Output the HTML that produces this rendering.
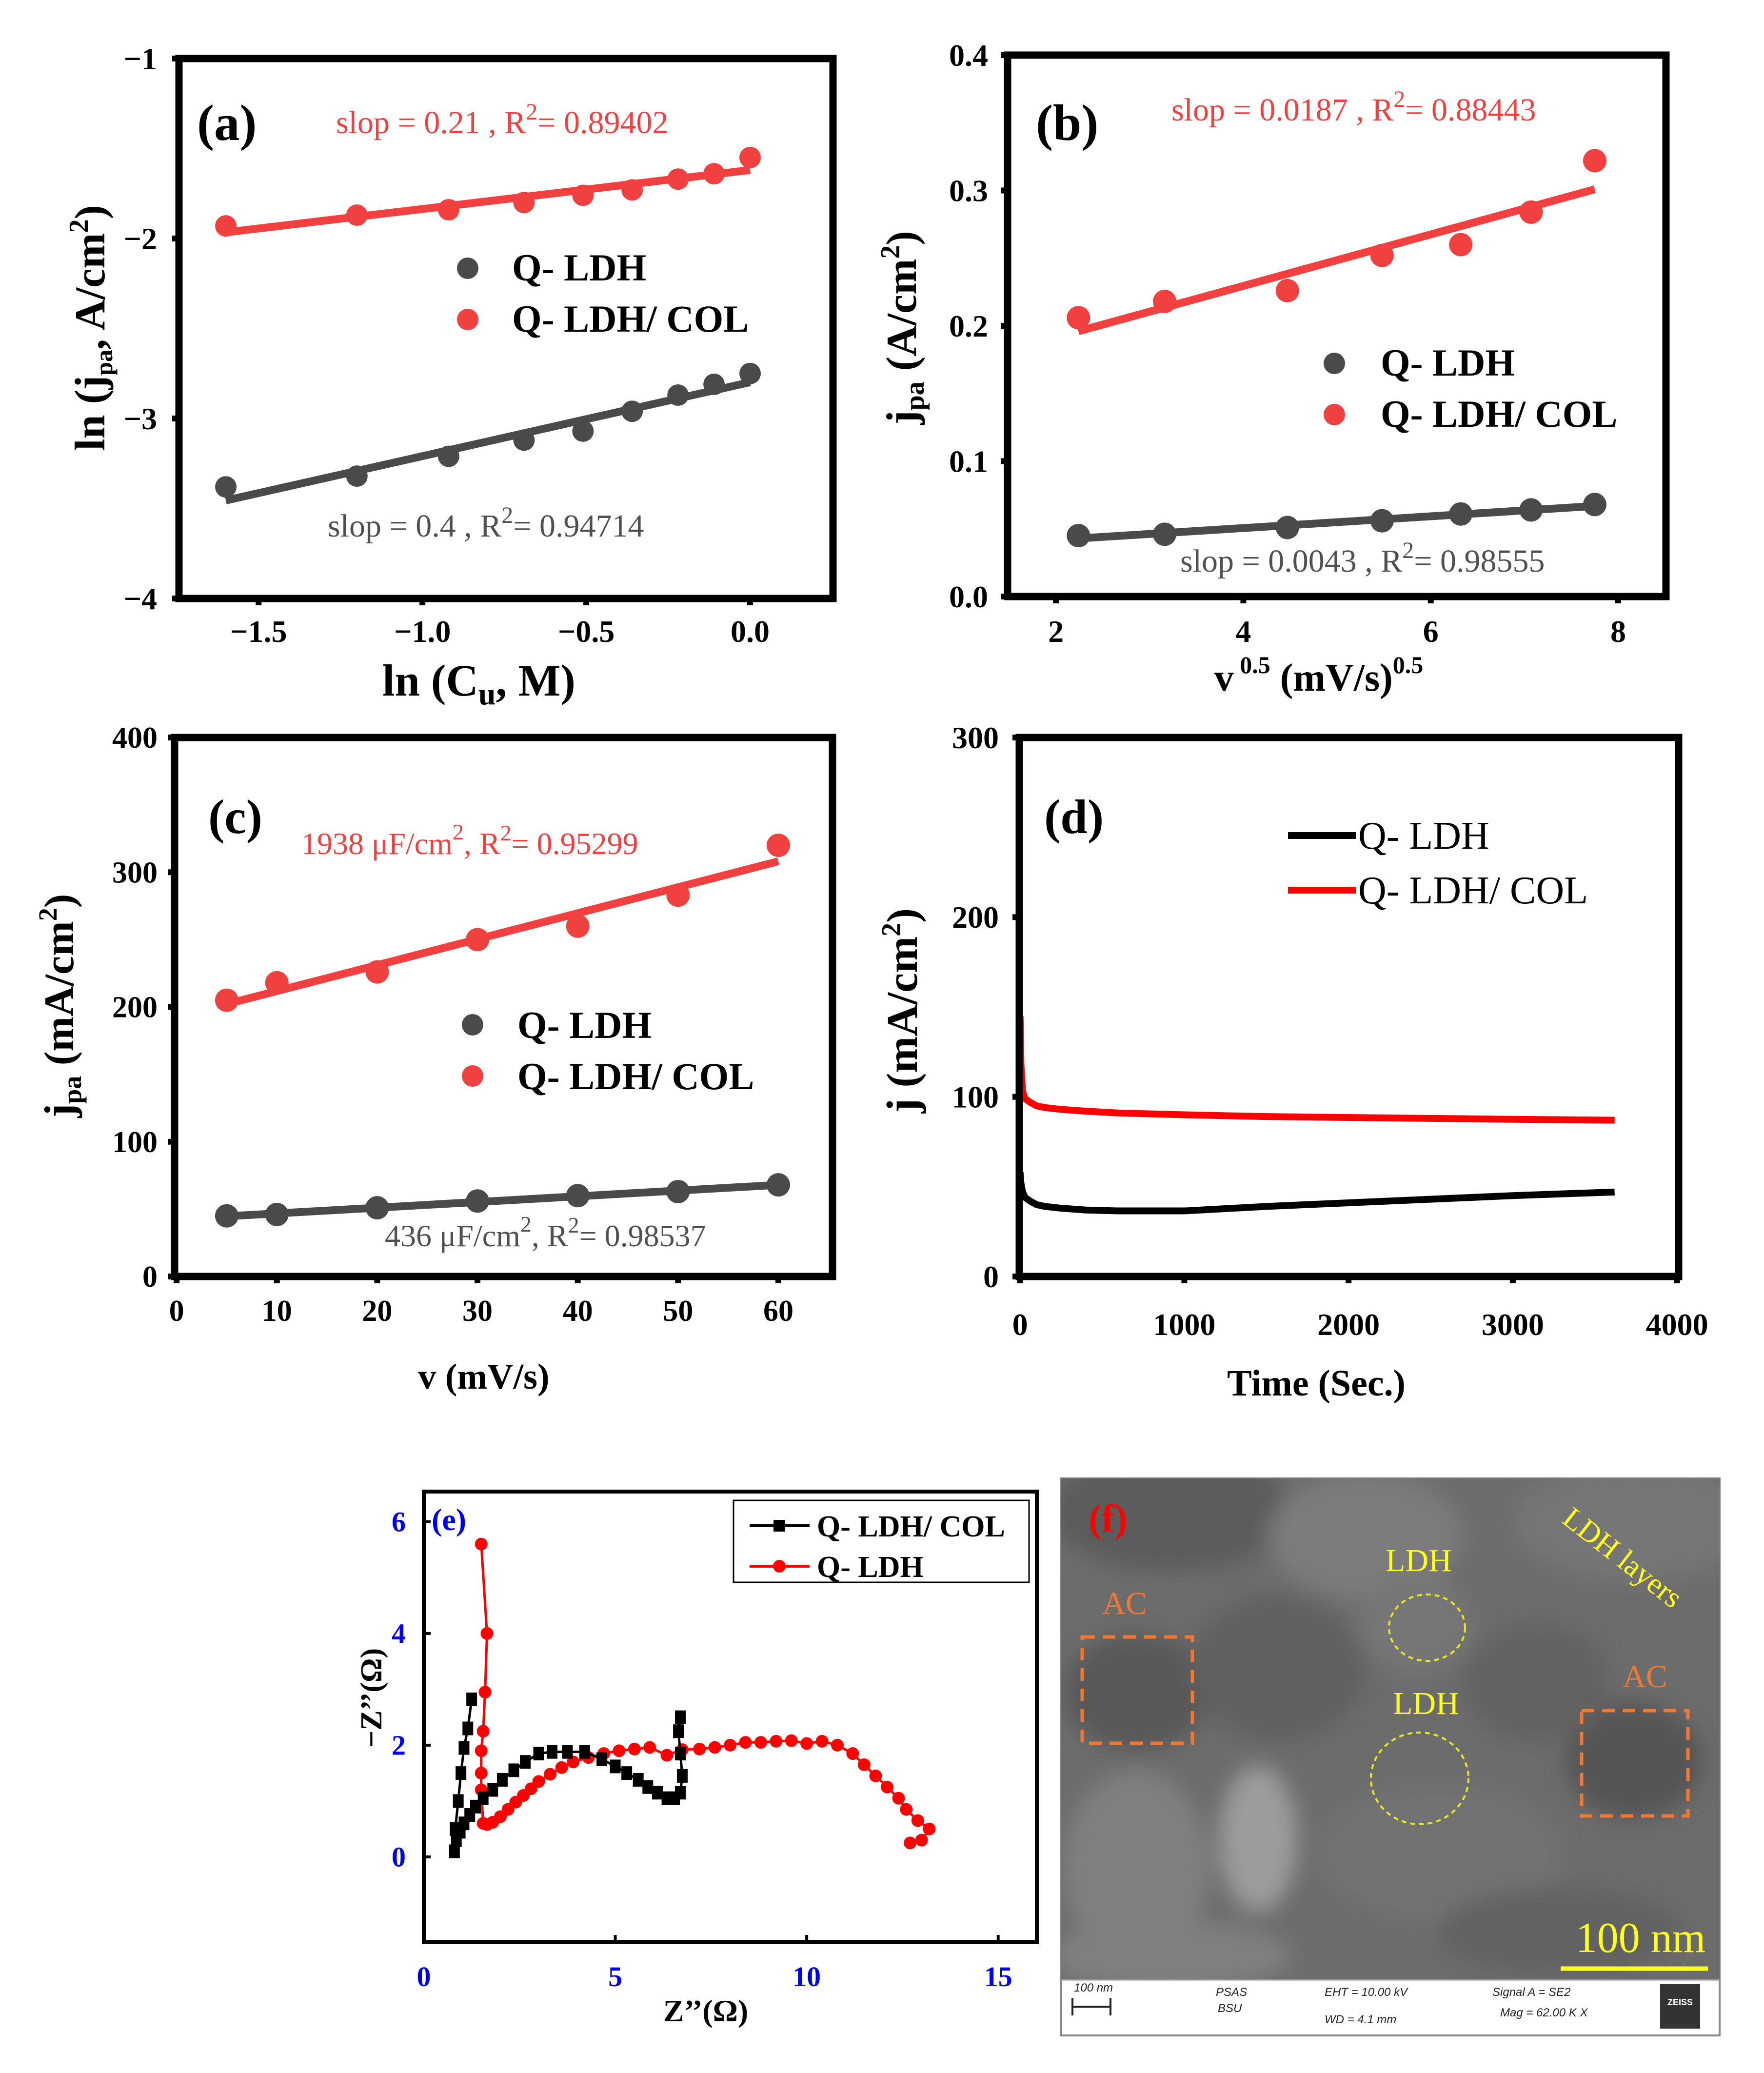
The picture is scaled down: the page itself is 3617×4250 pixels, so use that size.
<!DOCTYPE html>
<html><head><meta charset="utf-8">
<style>
html,body{margin:0;padding:0;background:#fff;}
svg{display:block;}
.t{font-family:"Liberation Serif",serif;}
</style></head>
<body>
<svg id="fig" width="3617" height="4250" viewBox="0 0 3617 4250" xmlns="http://www.w3.org/2000/svg">
  <defs>
    <filter id="blur1" x="-20%" y="-20%" width="140%" height="140%"><feGaussianBlur stdDeviation="22"/></filter>
    <filter id="blur2"><feGaussianBlur stdDeviation="8"/></filter>
    <clipPath id="semclip"><rect x="2176" y="3031" width="1350" height="1028"/></clipPath>
  </defs>
  <g id="pa"></g>
  <g id="pb"></g>
  <g id="pc"></g>
  <g id="pd"></g>
  <g id="pe"></g>

  <!-- Panel (a) text -->
  <g class="t">
    <text x="404" y="287" font-size="105" font-weight="bold">(a)</text>
    <text x="689" y="273" font-size="66" fill="#f04040">slop = 0.21 , R<tspan dy="-28" font-size="48">2</tspan><tspan dy="28">= 0.89402</tspan></text>
    <text x="672" y="1100" font-size="66" fill="#505050">slop = 0.4 , R<tspan dy="-28" font-size="48">2</tspan><tspan dy="28">= 0.94714</tspan></text>
    <text x="1050" y="575" font-size="78" font-weight="bold">Q- LDH</text>
    <text x="1050" y="680" font-size="78" font-weight="bold">Q- LDH/ COL</text>
    <text x="982" y="1426" font-size="92" font-weight="bold" text-anchor="middle">ln (C<tspan dy="18" font-size="64">u</tspan><tspan dy="-18">, M)</tspan></text>
    <text transform="translate(214,672) rotate(-90)" font-size="88" font-weight="bold" text-anchor="middle">ln (j<tspan dy="16" font-size="50">pa</tspan><tspan dy="-16">, A/cm</tspan><tspan dy="-34" font-size="56">2</tspan><tspan dy="34">)</tspan></text>
  </g>
  <!-- Panel (b) text -->
  <g class="t">
    <text x="2124" y="287" font-size="105" font-weight="bold">(b)</text>
    <text x="2402" y="247" font-size="66" fill="#f04040">slop = 0.0187 , R<tspan dy="-28" font-size="48">2</tspan><tspan dy="28">= 0.88443</tspan></text>
    <text x="2420" y="1172" font-size="66" fill="#505050">slop = 0.0043 , R<tspan dy="-28" font-size="48">2</tspan><tspan dy="28">= 0.98555</tspan></text>
    <text x="2831" y="770" font-size="78" font-weight="bold">Q- LDH</text>
    <text x="2831" y="875" font-size="78" font-weight="bold">Q- LDH/ COL</text>
    <text x="2704" y="1416" font-size="80" font-weight="bold" text-anchor="middle">v<tspan dy="-36" font-size="50"> 0.5</tspan><tspan dy="36"> (mV/s)</tspan><tspan dy="-36" font-size="50">0.5</tspan></text>
    <text transform="translate(1878,672) rotate(-90)" font-size="88" font-weight="bold" text-anchor="middle">j<tspan dy="16" font-size="56">pa</tspan><tspan dy="-16"> (A/cm</tspan><tspan dy="-34" font-size="56">2</tspan><tspan dy="34">)</tspan></text>
  </g>
  <!-- Panel (c) text -->
  <g class="t">
    <text x="427" y="1708" font-size="100" font-weight="bold">(c)</text>
    <text x="618" y="1751" font-size="64" fill="#f04040">1938 μF/cm<tspan dy="-30" font-size="46">2</tspan><tspan dy="30">, R</tspan><tspan dy="-28" font-size="46">2</tspan><tspan dy="28">= 0.95299</tspan></text>
    <text x="789" y="2555" font-size="64" fill="#505050">436 μF/cm<tspan dy="-30" font-size="46">2</tspan><tspan dy="30">, R</tspan><tspan dy="-28" font-size="46">2</tspan><tspan dy="28">= 0.98537</tspan></text>
    <text x="1061" y="2128" font-size="78" font-weight="bold">Q- LDH</text>
    <text x="1061" y="2233" font-size="78" font-weight="bold">Q- LDH/ COL</text>
    <text x="992" y="2847" font-size="74" font-weight="bold" text-anchor="middle">v (mV/s)</text>
    <text transform="translate(150,2062) rotate(-90)" font-size="86" font-weight="bold" text-anchor="middle">j<tspan dy="16" font-size="54">pa</tspan><tspan dy="-16"> (mA/cm</tspan><tspan dy="-34" font-size="54">2</tspan><tspan dy="34">)</tspan></text>
  </g>
  <!-- Panel (d) text -->
  <g class="t">
    <text x="2141" y="1708" font-size="100" font-weight="bold">(d)</text>
    <line x1="2641" y1="1713" x2="2780" y2="1713" stroke="#000" stroke-width="14"/>
    <line x1="2641" y1="1825" x2="2780" y2="1825" stroke="#f00" stroke-width="14"/>
    <text x="2785" y="1740" font-size="80">Q- LDH</text>
    <text x="2785" y="1852" font-size="80">Q- LDH/ COL</text>
    <text x="2699" y="2861" font-size="76" font-weight="bold" text-anchor="middle">Time (Sec.)</text>
    <text transform="translate(1880,2072) rotate(-90)" font-size="90" font-weight="bold" text-anchor="middle">j (mA/cm<tspan dy="-34" font-size="56">2</tspan><tspan dy="34">)</tspan></text>
  </g>
  <!-- Panel (e) text -->
  <g class="t">
    <text x="885" y="3137" font-size="64" font-weight="bold" fill="#0000ee">(e)</text>
    <rect x="1504" y="3076" width="606" height="168" fill="#fff" stroke="#000" stroke-width="3"/>
    <line x1="1537" y1="3128" x2="1660" y2="3128" stroke="#000" stroke-width="6"/>
    <rect x="1586" y="3116" width="24" height="24" fill="#000"/>
    <line x1="1537" y1="3211" x2="1660" y2="3211" stroke="#f00" stroke-width="6"/>
    <circle cx="1598" cy="3211" r="13" fill="#f00"/>
    <text x="1675" y="3150" font-size="62" font-weight="bold">Q- LDH/ COL</text>
    <text x="1675" y="3233" font-size="62" font-weight="bold">Q- LDH</text>
    <text x="1447" y="4144" font-size="64" font-weight="bold" text-anchor="middle">Z’’(Ω)</text>
    <text transform="translate(782,3481) rotate(-90)" font-size="62" font-weight="bold" text-anchor="middle">−Z’’(Ω)</text>
  </g>

  <!-- Panel (f) SEM -->
  <g>
    <rect x="2176" y="3031" width="1350" height="1142" fill="#fff" stroke="#888" stroke-width="4"/>
    <g clip-path="url(#semclip)">
      <rect x="2176" y="3031" width="1350" height="1028" fill="#6c6c6c"/>
      <g filter="url(#blur1)">
        <ellipse cx="2400" cy="3100" rx="250" ry="120" fill="#5c5c5c"/>
        <ellipse cx="2800" cy="3150" rx="200" ry="130" fill="#7c7c7c"/>
        <ellipse cx="3350" cy="3120" rx="250" ry="120" fill="#767676"/>
        <ellipse cx="2330" cy="3470" rx="150" ry="120" fill="#595959"/>
        <ellipse cx="3350" cy="3610" rx="140" ry="120" fill="#555"/>
        <ellipse cx="2330" cy="3830" rx="150" ry="200" fill="#808080"/>
        <ellipse cx="2580" cy="3770" rx="80" ry="150" fill="#9c9c9c"/>
        <ellipse cx="2620" cy="3420" rx="180" ry="150" fill="#606060"/>
        <ellipse cx="2950" cy="3800" rx="250" ry="140" fill="#727272"/>
        <ellipse cx="3150" cy="3450" rx="150" ry="120" fill="#626262"/>
        <ellipse cx="2900" cy="3330" rx="120" ry="100" fill="#767676"/>
        <ellipse cx="3200" cy="3960" rx="250" ry="90" fill="#626262"/>
        <ellipse cx="2400" cy="4010" rx="250" ry="70" fill="#808080"/>
      </g>
    </g>
    <rect x="2219" y="3356" width="226" height="218" fill="none" stroke="#f07830" stroke-width="7" stroke-dasharray="26,16"/>
    <rect x="3243" y="3507" width="218" height="216" fill="none" stroke="#f07830" stroke-width="7" stroke-dasharray="26,16"/>
    <ellipse cx="2926" cy="3337" rx="78" ry="68" fill="none" stroke="#e8e820" stroke-width="4" stroke-dasharray="10,8"/>
    <ellipse cx="2911" cy="3646" rx="100" ry="94" fill="none" stroke="#e8e820" stroke-width="4" stroke-dasharray="10,8"/>
    <g class="t">
      <text x="2232" y="3140" font-size="80" font-weight="bold" fill="#f00">(f)</text>
      <text x="2306" y="3309" font-size="66" fill="#f07830" text-anchor="middle">AC</text>
      <text x="3373" y="3459" font-size="66" fill="#f07830" text-anchor="middle">AC</text>
      <text x="2909" y="3221" font-size="66" fill="#ffff20" text-anchor="middle">LDH</text>
      <text x="2924" y="3514" font-size="66" fill="#ffff20" text-anchor="middle">LDH</text>
      <text transform="translate(3200,3120) rotate(38)" font-size="62" fill="#ffff20">LDH layers</text>
      <text x="3364" y="4002" font-size="88" fill="#ffff20" text-anchor="middle">100 nm</text>
    </g>
    <line x1="3200" y1="4036" x2="3502" y2="4036" stroke="#ffff20" stroke-width="9"/>
    <line x1="2176" y1="4059" x2="3526" y2="4059" stroke="#999" stroke-width="3"/>
    <g font-family="Liberation Sans, sans-serif" font-style="italic" font-size="24" fill="#222">
      <text x="2202" y="4083">100 nm</text>
      <path d="M2199 4096 v36 M2199 4114 h78 M2277 4096 v36" stroke="#222" stroke-width="4" fill="none"/>
      <text x="2493" y="4092">PSAS</text>
      <text x="2497" y="4125">BSU</text>
      <text x="2716" y="4092">EHT = 10.00 kV</text>
      <text x="2716" y="4148">WD =  4.1 mm</text>
      <text x="3060" y="4092">Signal A = SE2</text>
      <text x="3076" y="4134">Mag =   62.00 K X</text>
      <rect x="3404" y="4067" width="82" height="92" fill="#333"/>
      <text x="3445" y="4111" font-size="18" fill="#fff" text-anchor="middle" font-style="normal" font-weight="bold">ZEISS</text>
    </g>
  </g>
</svg>
<script>
// ---------- data ----------
const aX = [-1.6, -1.2, -0.92, -0.69, -0.51, -0.36, -0.22, -0.11, 0.0];
const aRed = [-1.93, -1.87, -1.84, -1.80, -1.76, -1.73, -1.67, -1.64, -1.55];
const aBlack = [-3.38, -3.32, -3.21, -3.12, -3.07, -2.96, -2.87, -2.81, -2.75];
const aXTicks = [-1.5, -1.0, -0.5, 0.0];
const aXTickLabels = ["−1.5", "−1.0", "−0.5", "0.0"];
const aYTicks = [-1, -2, -3, -4];
const aYTickLabels = ["−1", "−2", "−3", "−4"];

const bX = [2.24, 3.16, 4.47, 5.48, 6.32, 7.07, 7.75];
const bRed = [0.206, 0.218, 0.226, 0.252, 0.260, 0.284, 0.322];
const bBlack = [0.045, 0.046, 0.051, 0.056, 0.061, 0.064, 0.068];
const bXTicks = [2, 4, 6, 8];
const bXTickLabels = ["2", "4", "6", "8"];
const bYTicks = [0, 0.1, 0.2, 0.3, 0.4];
const bYTickLabels = ["0.0", "0.1", "0.2", "0.3", "0.4"];

const cX = [5, 10, 20, 30, 40, 50, 60];
const cRed = [205, 218, 226, 250, 260, 283, 320];
const cBlack = [45, 46, 51, 56, 60, 63, 68];
const cXTicks = [0, 10, 20, 30, 40, 50, 60];
const cXTickLabels = ["0", "10", "20", "30", "40", "50", "60"];
const cYTicks = [0, 100, 200, 300, 400];
const cYTickLabels = ["0", "100", "200", "300", "400"];

const dTime = [0, 5, 15, 30, 60, 100, 150, 250, 400, 600, 1000, 1500, 2000, 2500, 3000, 3620];
const dRed = [145, 118, 103, 99, 97, 95, 94, 93, 92, 91, 90, 89, 88.5, 88, 87.5, 87];
const dBlack = [58, 52, 47, 44, 42, 40, 39, 38, 37, 36.5, 36.5, 39, 41, 43, 45, 47];
const dXTicks = [0, 1000, 2000, 3000, 4000];
const dXTickLabels = ["0", "1000", "2000", "3000", "4000"];
const dYTicks = [0, 100, 200, 300];
const dYTickLabels = ["0", "100", "200", "300"];

const eColX = [1.25, 1.15, 1.05, 0.97, 0.9, 0.82, 0.8, 0.85, 0.95, 1.05, 1.2, 1.35, 1.55, 1.8, 2.05, 2.35, 2.65, 3.0, 3.35, 3.75, 4.2, 4.65, 5.0, 5.3, 5.6, 5.85, 6.1, 6.35, 6.55, 6.7, 6.75, 6.7, 6.65, 6.7];
const eColY = [2.82, 2.3, 1.95, 1.5, 1.0, 0.5, 0.1, 0.3, 0.45, 0.6, 0.75, 0.9, 1.05, 1.2, 1.38, 1.55, 1.7, 1.85, 1.88, 1.88, 1.88, 1.75, 1.62, 1.5, 1.38, 1.25, 1.15, 1.05, 1.05, 1.15, 1.45, 1.85, 2.25, 2.5];
const eLdhX = [1.5, 1.65, 1.6, 1.55, 1.5, 1.5, 1.5, 1.55, 1.65, 1.8, 2.0, 2.2, 2.4, 2.6, 2.8, 3.0, 3.3, 3.6, 3.9, 4.3, 4.7, 5.1, 5.5, 5.9, 6.35, 6.75, 7.2, 7.6, 8.0, 8.4, 8.8, 9.2, 9.6, 10.0, 10.4, 10.8, 11.2, 11.5, 11.8, 12.1, 12.4, 12.6, 12.9, 13.2, 13.0, 12.7];
const eLdhY = [5.6, 4.0, 2.95, 2.25, 1.9, 1.5, 1.2, 0.6, 0.58, 0.62, 0.72, 0.85, 0.98, 1.1, 1.22, 1.35, 1.48, 1.6, 1.7, 1.78, 1.85, 1.9, 1.93, 1.96, 1.82, 1.92, 1.93, 1.96, 2.0, 2.05, 2.05, 2.07, 2.08, 2.03, 2.07, 2.0, 1.85, 1.65, 1.45, 1.25, 1.05, 0.85, 0.65, 0.5, 0.3, 0.25];
const eXTicks = [0, 5, 10, 15];
const eXTickLabels = ["0", "5", "10", "15"];
const eYTicks = [0, 2, 4, 6];
const eYTickLabels = ["0", "2", "4", "6"];

// ---------- helpers ----------
const NS = "http://www.w3.org/2000/svg";
function mk(parent, tag, attrs) {
  const e = document.createElementNS(NS, tag);
  for (const k in attrs) e.setAttribute(k, attrs[k]);
  parent.appendChild(e);
  return e;
}
function scale(d0, d1, r0, r1) { return v => r0 + (v - d0) / (d1 - d0) * (r1 - r0); }
function fit(xs, ys) {
  const n = xs.length; let sx = 0, sy = 0, sxx = 0, sxy = 0;
  for (let i = 0; i < n; i++) { sx += xs[i]; sy += ys[i]; sxx += xs[i] * xs[i]; sxy += xs[i] * ys[i]; }
  const m = (n * sxy - sx * sy) / (n * sxx - sx * sx);
  return { m: m, b: (sy - m * sx) / n };
}
function frame(g, box, sw) {
  const r = mk(g, 'rect', { x: box.l, y: box.t, width: box.r - box.l, height: box.b - box.t, fill: 'none', stroke: '#000', 'stroke-width': sw });
  
  
}
function axes(g, box, sx, sy, xt, xl, yt, yl, o) {
  for (let i = 0; i < xt.length; i++) {
    const x = sx(xt[i]);
    const tk = mk(g, 'line', { x1: x, y1: box.b, x2: x, y2: box.b + o.tick, stroke: '#000', 'stroke-width': o.tw });
    
    
    const tx = mk(g, 'text', { x: x, y: o.xly, 'text-anchor': 'middle', 'font-size': o.fs, 'font-weight': 'bold', 'font-family': 'Liberation Serif, serif', fill: o.col || '#000' });
    tx.textContent = xl[i];
    
    
  }
  for (let i = 0; i < yt.length; i++) {
    const y = sy(yt[i]);
    const tk = mk(g, 'line', { x1: box.l - o.tick, y1: y, x2: box.l, y2: y, stroke: '#000', 'stroke-width': o.tw });
    
    
    const tx = mk(g, 'text', { x: o.ylx, y: y + o.fs * 0.34, 'text-anchor': 'end', 'font-size': o.fs, 'font-weight': 'bold', 'font-family': 'Liberation Serif, serif', fill: o.col || '#000' });
    tx.textContent = yl[i];
    
    
  }
}
function scatterFit(g, xs, ys, sx, sy, color, r, lw, name) {
  const f = fit(xs, ys);
  const x0 = xs[0], x1 = xs[xs.length - 1];
  const ln = mk(g, 'line', { x1: sx(x0), y1: sy(f.m * x0 + f.b), x2: sx(x1), y2: sy(f.m * x1 + f.b), stroke: color, 'stroke-width': lw });
  
  
  for (let i = 0; i < xs.length; i++) {
    const c = mk(g, 'circle', { cx: sx(xs[i]), cy: sy(ys[i]), r: r, fill: color });
    
    
  }
}
function legendDot(g, x, y, color, name) {
  const c = mk(g, 'circle', { cx: x, cy: y, r: 22, fill: color });
  
  
}
const RED = '#f04040', GREY = '#4a4a4a';

// ---------- panel a ----------
(function () {
  const g = document.getElementById('pa');
  const box = { l: 367, r: 1708, t: 120, b: 1227 };
  const sx = scale(-1.743, 0.253, box.l, box.r), sy = scale(-4, -1, box.b, box.t);
  scatterFit(g, aX, aRed, sx, sy, RED, 22, 16, 'a-q-ldh-col');
  scatterFit(g, aX, aBlack, sx, sy, GREY, 22, 16, 'a-q-ldh');
  frame(g, box, 15);
  axes(g, box, sx, sy, aXTicks, aXTickLabels, aYTicks, aYTickLabels, { tick: 14, tw: 12, fs: 64, xly: 1316, ylx: 322 });
  legendDot(g, 959, 550, GREY, 'legend-dot-q-ldh-a');
  legendDot(g, 959, 655, RED, 'legend-dot-q-ldh-col-a');
})();
// ---------- panel b ----------
(function () {
  const g = document.getElementById('pb');
  const box = { l: 2066, r: 3416, t: 113, b: 1223 };
  const sx = scale(1.484, 8.51, box.l, box.r), sy = scale(0, 0.4, box.b, box.t);
  scatterFit(g, bX, bRed, sx, sy, RED, 24, 16, 'b-q-ldh-col');
  scatterFit(g, bX, bBlack, sx, sy, GREY, 24, 16, 'b-q-ldh');
  frame(g, box, 15);
  axes(g, box, sx, sy, bXTicks, bXTickLabels, bYTicks, bYTickLabels, { tick: 14, tw: 12, fs: 64, xly: 1316, ylx: 2026 });
  legendDot(g, 2736, 745, GREY, 'legend-dot-q-ldh-b');
  legendDot(g, 2736, 850, RED, 'legend-dot-q-ldh-col-b');
})();
// ---------- panel c ----------
(function () {
  const g = document.getElementById('pc');
  const box = { l: 358, r: 1707, t: 1512, b: 2617 };
  const sx = scale(-0.2, 65.4, box.l, box.r), sy = scale(0, 400, box.b, box.t);
  scatterFit(g, cX, cRed, sx, sy, RED, 24, 16, 'c-q-ldh-col');
  scatterFit(g, cX, cBlack, sx, sy, GREY, 24, 16, 'c-q-ldh');
  frame(g, box, 15);
  axes(g, box, sx, sy, cXTicks, cXTickLabels, cYTicks, cYTickLabels, { tick: 14, tw: 12, fs: 62, xly: 2708, ylx: 323 });
  legendDot(g, 969, 2101, GREY, 'legend-dot-q-ldh-c');
  legendDot(g, 969, 2206, RED, 'legend-dot-q-ldh-col-c');
})();
// ---------- panel d ----------
(function () {
  const g = document.getElementById('pd');
  const box = { l: 2090, r: 3442, t: 1512, b: 2617 };
  const sx = scale(-5, 4010, box.l, box.r), sy = scale(0, 300, box.b, box.t);
  const series = [[dRed, '#ff0000', 'd-q-ldh-col-curve'], [dBlack, '#000', 'd-q-ldh-curve']];
  series.forEach(s => {
    const pts = dTime.map((t, i) => sx(t) + ',' + sy(s[0][i])).join(' ');
    const pl = mk(g, 'polyline', { points: pts, fill: 'none', stroke: s[1], 'stroke-width': 14, 'stroke-linejoin': 'round' });
    
    
  });
  frame(g, box, 15);
  axes(g, box, sx, sy, dXTicks, dXTickLabels, dYTicks, dYTickLabels, { tick: 14, tw: 12, fs: 64, xly: 2737, ylx: 2048 });
})();
// ---------- panel e ----------
(function () {
  const g = document.getElementById('pe');
  const box = { l: 869, r: 2126, t: 3058, b: 3981 };
  const sx = scale(0, 16.01, box.l, box.r), sy = scale(-1.52, 6.54, box.b, box.t);
  const pr = mk(g, 'polyline', { points: eLdhX.map((x, i) => sx(x) + ',' + sy(eLdhY[i])).join(' '), fill: 'none', stroke: '#f00', 'stroke-width': 5 });
  
  
  for (let i = 0; i < eLdhX.length; i++) {
    const c = mk(g, 'circle', { cx: sx(eLdhX[i]), cy: sy(eLdhY[i]), r: 13, fill: '#f00' });
    
    
  }
  const pb = mk(g, 'polyline', { points: eColX.map((x, i) => sx(x) + ',' + sy(eColY[i])).join(' '), fill: 'none', stroke: '#000', 'stroke-width': 5 });
  
  
  for (let i = 0; i < eColX.length; i++) {
    const s = mk(g, 'rect', { x: sx(eColX[i]) - 11, y: sy(eColY[i]) - 14, width: 22, height: 28, fill: '#000' });
    
    
  }
  frame(g, box, 8);
  axes(g, box, sx, sy, eXTicks, eXTickLabels, eYTicks, eYTickLabels, { tick: -14, tw: 6, fs: 58, xly: 4072, ylx: 832, col: '#0000ee' });
})();
</script>
</body></html>
